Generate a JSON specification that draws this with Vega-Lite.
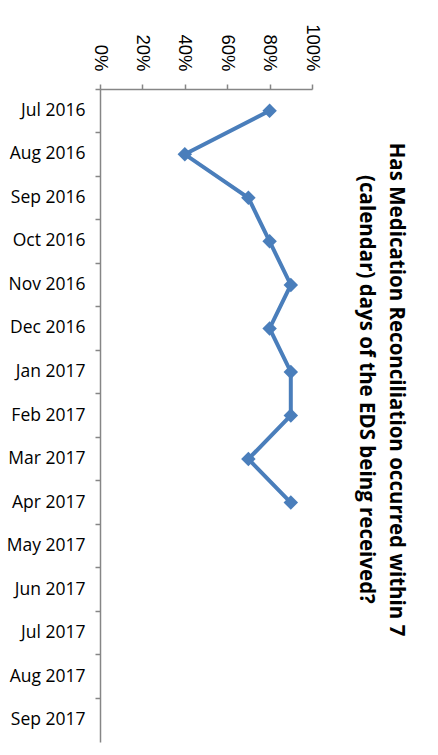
{
  "$schema": "https://vega.github.io/schema/vega-lite/v6.json",
  "autosize": {"type": "none"},
  "width": 212,
  "height": 653,
  "padding": {"left": 100, "top": 89, "right": 126, "bottom": 13},
  "background": "white",
  "title": {
    "text": ["Has Medication Reconciliation occurred within 7", "(calendar) days of the EDS being received?"],
    "orient": "right",
    "anchor": "middle",
    "font": "Open Sans",
    "fontSize": 20.5,
    "fontWeight": "bold",
    "color": "#000000",
    "lineHeight": 30,
    "offset": 34,
    "dx": -26
  },
  "data": {
    "values": [
      {"month": "Jul 2016", "value": 0.8},
      {"month": "Aug 2016", "value": 0.4},
      {"month": "Sep 2016", "value": 0.7},
      {"month": "Oct 2016", "value": 0.8},
      {"month": "Nov 2016", "value": 0.9},
      {"month": "Dec 2016", "value": 0.8},
      {"month": "Jan 2017", "value": 0.9},
      {"month": "Feb 2017", "value": 0.9},
      {"month": "Mar 2017", "value": 0.7},
      {"month": "Apr 2017", "value": 0.9}
    ]
  },
  "mark": {
    "type": "line",
    "color": "#4a7ebb",
    "strokeWidth": 4,
    "point": {"shape": "diamond", "filled": true, "size": 210, "color": "#4a7ebb"}
  },
  "encoding": {
    "y": {
      "field": "month",
      "type": "ordinal",
      "sort": null,
      "scale": {
        "domain": ["Jul 2016", "Aug 2016", "Sep 2016", "Oct 2016", "Nov 2016", "Dec 2016", "Jan 2017", "Feb 2017", "Mar 2017", "Apr 2017", "May 2017", "Jun 2017", "Jul 2017", "Aug 2017", "Sep 2017"],
        "type": "band",
        "paddingInner": 0,
        "paddingOuter": 0
      },
      "axis": {
        "title": null,
        "orient": "left",
        "bandPosition": 0,
        "domainColor": "#868686",
        "domainWidth": 1.5,
        "tickColor": "#868686",
        "tickWidth": 1.5,
        "tickSize": 5,
        "labelPadding": 10,
        "labelFont": "Open Sans",
        "labelFontSize": 17.5,
        "labelColor": "#000000",
        "labelAngle": 0,
        "labelAlign": "right",
        "labelBaseline": "middle",
        "grid": false
      }
    },
    "x": {
      "field": "value",
      "type": "quantitative",
      "scale": {"domain": [0, 1], "nice": false},
      "axis": {
        "title": null,
        "orient": "top",
        "values": [0, 0.2, 0.4, 0.6, 0.8, 1],
        "format": ".0%",
        "labelAngle": 90,
        "labelAlign": "right",
        "labelBaseline": "middle",
        "labelPadding": 13,
        "labelFont": "Liberation Sans",
        "labelFontSize": 18.5,
        "labelColor": "#000000",
        "domainColor": "#868686",
        "domainWidth": 1.5,
        "tickColor": "#868686",
        "tickWidth": 1.5,
        "tickSize": 5,
        "grid": false
      }
    }
  },
  "config": {"view": {"stroke": null}}
}
